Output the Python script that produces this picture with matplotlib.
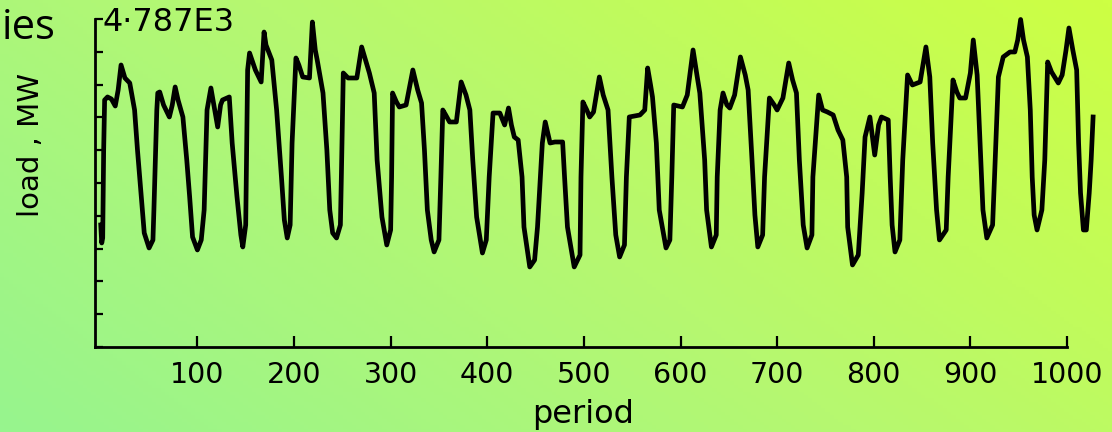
import matplotlib
matplotlib.use("Agg")
import matplotlib.pyplot as plt
import numpy as np
from matplotlib.colors import LinearSegmentedColormap

# ── data (period, load in MW) ────────────────────────────────────────────────
period = [
    0, 1, 2, 3, 4, 7, 11, 15, 18, 21, 25, 30, 35, 38, 42, 45, 50,
    54, 55, 58, 59, 61, 65, 71, 74, 77, 80, 85, 89, 92, 95, 100,
    104, 107, 110, 114, 118, 121, 124, 126, 133, 136, 141, 145, 147,
    150, 151, 152, 154, 160, 166, 169, 171, 177, 182, 187, 190, 193,
    196, 198, 202, 205, 209, 216, 219, 222, 224, 230, 234, 237, 240, 244,
    248, 249, 251, 256, 265, 270, 274, 278, 283, 286, 291, 296,
    300, 301, 302, 306, 309, 316, 323, 328, 332, 335, 338, 342, 345,
    350, 352, 354, 357, 361, 368, 373, 378, 382, 385, 389, 395,
    399, 402, 406, 413, 418, 422, 425, 428, 432, 436, 438, 444,
    449, 452, 457, 460, 465, 470, 478, 480, 483, 490,
    496, 497, 499, 503, 506, 510, 516, 520, 525, 529, 533, 537,
    542, 544, 547, 558, 563, 566, 569, 571, 575, 578, 585,
    589, 591, 593, 602, 607, 613, 617, 620, 625, 627, 632,
    637, 638, 641, 644, 648, 651, 656, 662, 667, 670, 674, 677, 680,
    685, 687, 692, 697, 700, 706, 712, 716, 720, 723, 727, 731,
    736, 737, 743, 747, 752, 758, 763, 768, 772, 773, 778,
    784, 788, 791, 796, 801, 805, 808, 815, 817, 819, 822,
    827, 830, 835, 840, 848, 854, 858, 861, 865, 868,
    875, 877, 882, 886, 889, 895, 900, 903, 907, 910, 913, 917,
    923, 925, 929, 934, 941, 946, 949, 952, 955, 959, 962, 964, 966, 969,
    974, 977, 980, 984, 991, 995, 999, 1002, 1006, 1010, 1012, 1014, 1017,
    1020, 1023, 1025, 1027,
]
load_mw = [
    1781, 1518, 1591, 2875, 3605, 3649, 3620, 3517, 3751, 4116, 3926, 3853, 3459, 2875, 2189, 1664, 1445,
    1562, 2000, 3459, 3707, 3722, 3532, 3357, 3532, 3795, 3605, 3357, 2729, 2189, 1605, 1416,
    1562, 2000, 3459, 3780, 3459, 3211, 3532, 3605, 3649, 2977, 2189, 1635, 1460,
    1781, 2977, 4043, 4291, 4043, 3868, 4597, 4408, 4189, 3459, 2481, 1854, 1591,
    1781, 2977, 4218, 4116, 3941, 3926, 4743, 4335, 4189, 3707, 2875, 2000, 1664, 1591,
    1781, 2481, 3999, 3926, 3926, 4379, 4189, 3999, 3707, 2729, 1897, 1489,
    1708, 2481, 3707, 3576, 3503, 3532, 4043, 3751, 3561, 2875, 2000, 1562, 1387,
    1562, 2481, 3459, 3386, 3284, 3284, 3868, 3678, 3459, 2729, 1897, 1372,
    1562, 2481, 3415, 3415, 3240, 3488, 3240, 3065, 3021, 2481, 1751, 1168,
    1270, 1751, 2977, 3284, 2977, 2992, 2992, 2481, 1751, 1168,
    1343, 2481, 3576, 3459, 3357, 3430, 3941, 3678, 3459, 2481, 1635, 1314,
    1489, 2481, 3357, 3386, 3459, 4072, 3824, 3649, 2977, 2000, 1445,
    1562, 2481, 3532, 3503, 3678, 4335, 3970, 3707, 2729, 2000, 1460,
    1635, 2481, 3459, 3707, 3532, 3488, 3678, 4233, 3970, 3751, 2729, 1927, 1460,
    1635, 2481, 3634, 3532, 3459, 3634, 4145, 3897, 3707, 2729, 1781, 1445,
    1635, 2481, 3678, 3459, 3430, 3386, 3167, 3021, 2481, 1751, 1197,
    1343, 2248, 3065, 3357, 2802, 3240, 3357, 3313, 2481, 1781, 1387,
    1562, 2729, 3970, 3824, 3868, 4379, 3941, 2977, 2000, 1562,
    1708, 2481, 3897, 3722, 3634, 3634, 3999, 4481, 3970, 2977, 2000, 1591,
    1781, 2481, 3941, 4233, 4306, 4306, 4481, 4780, 4481, 4233, 3459, 2481, 1927, 1708,
    2000, 2729, 4160, 4014, 3853, 3970, 4335, 4656, 4335, 4043, 2977, 2248, 1708,
    1708, 2248, 2729, 3357,
]
x_ticks = [100, 200, 300, 400, 500, 600, 700, 800, 900, 1000]
y_max = 4787

# ── figure + gradient background ─────────────────────────────────────────────
fig = plt.figure(figsize=(11.12, 4.32), dpi=100)
bg = fig.add_axes([0, 0, 1, 1], zorder=0)
bg.axis("off")
gx, gy = np.meshgrid(np.linspace(0, 1, 256), np.linspace(0, 1, 128))
grad = 0.65 * gx + 0.35 * gy
cmap = LinearSegmentedColormap.from_list("bg", ["#97f48e", "#b6f870", "#cdff43"])
bg.imshow(grad, cmap=cmap, aspect="auto", origin="lower", extent=[0, 1, 0, 1])
bg.set_xlim(0, 1)
bg.set_ylim(0, 1)

ax = fig.add_axes([0.0854, 0.1968, 0.9002, 0.7592], zorder=1)
ax.set_facecolor("none")
ax.plot(period, load_mw, color="black", lw=3.4, solid_joinstyle="round",
        clip_on=False)

ax.set_xlim(-6, 1030)
ax.set_ylim(0, y_max)
for side in ("top", "right"):
    ax.spines[side].set_visible(False)
for side in ("left", "bottom"):
    ax.spines[side].set_linewidth(2.0)
ax.spines["bottom"].set_bounds(-6, 1000)

ax.set_xticks(x_ticks)
ax.set_xticklabels([str(t) for t in x_ticks])
ax.set_yticks(np.linspace(0, y_max, 11))
ax.set_yticklabels([])
ax.tick_params(axis="x", direction="in", length=8, width=1.6, labelsize=20.5,
               pad=10, colors="black")
ax.tick_params(axis="y", direction="in", length=6, width=1.6)

# ── texts ────────────────────────────────────────────────────────────────────
fig.text(0.0926, 0.949, "4·787E3", fontsize=23, va="center", ha="left")
fig.text(0.524, 0.040, "period", fontsize=23, va="center", ha="center")
fig.text(0.028, 0.664, "load , MW", fontsize=21, rotation=90,
         va="center", ha="center")
fig.text(0.002, 0.935, "ies", fontsize=30, family="Open Sans",
         va="center", ha="left")

fig.savefig("out.png", dpi=100)
